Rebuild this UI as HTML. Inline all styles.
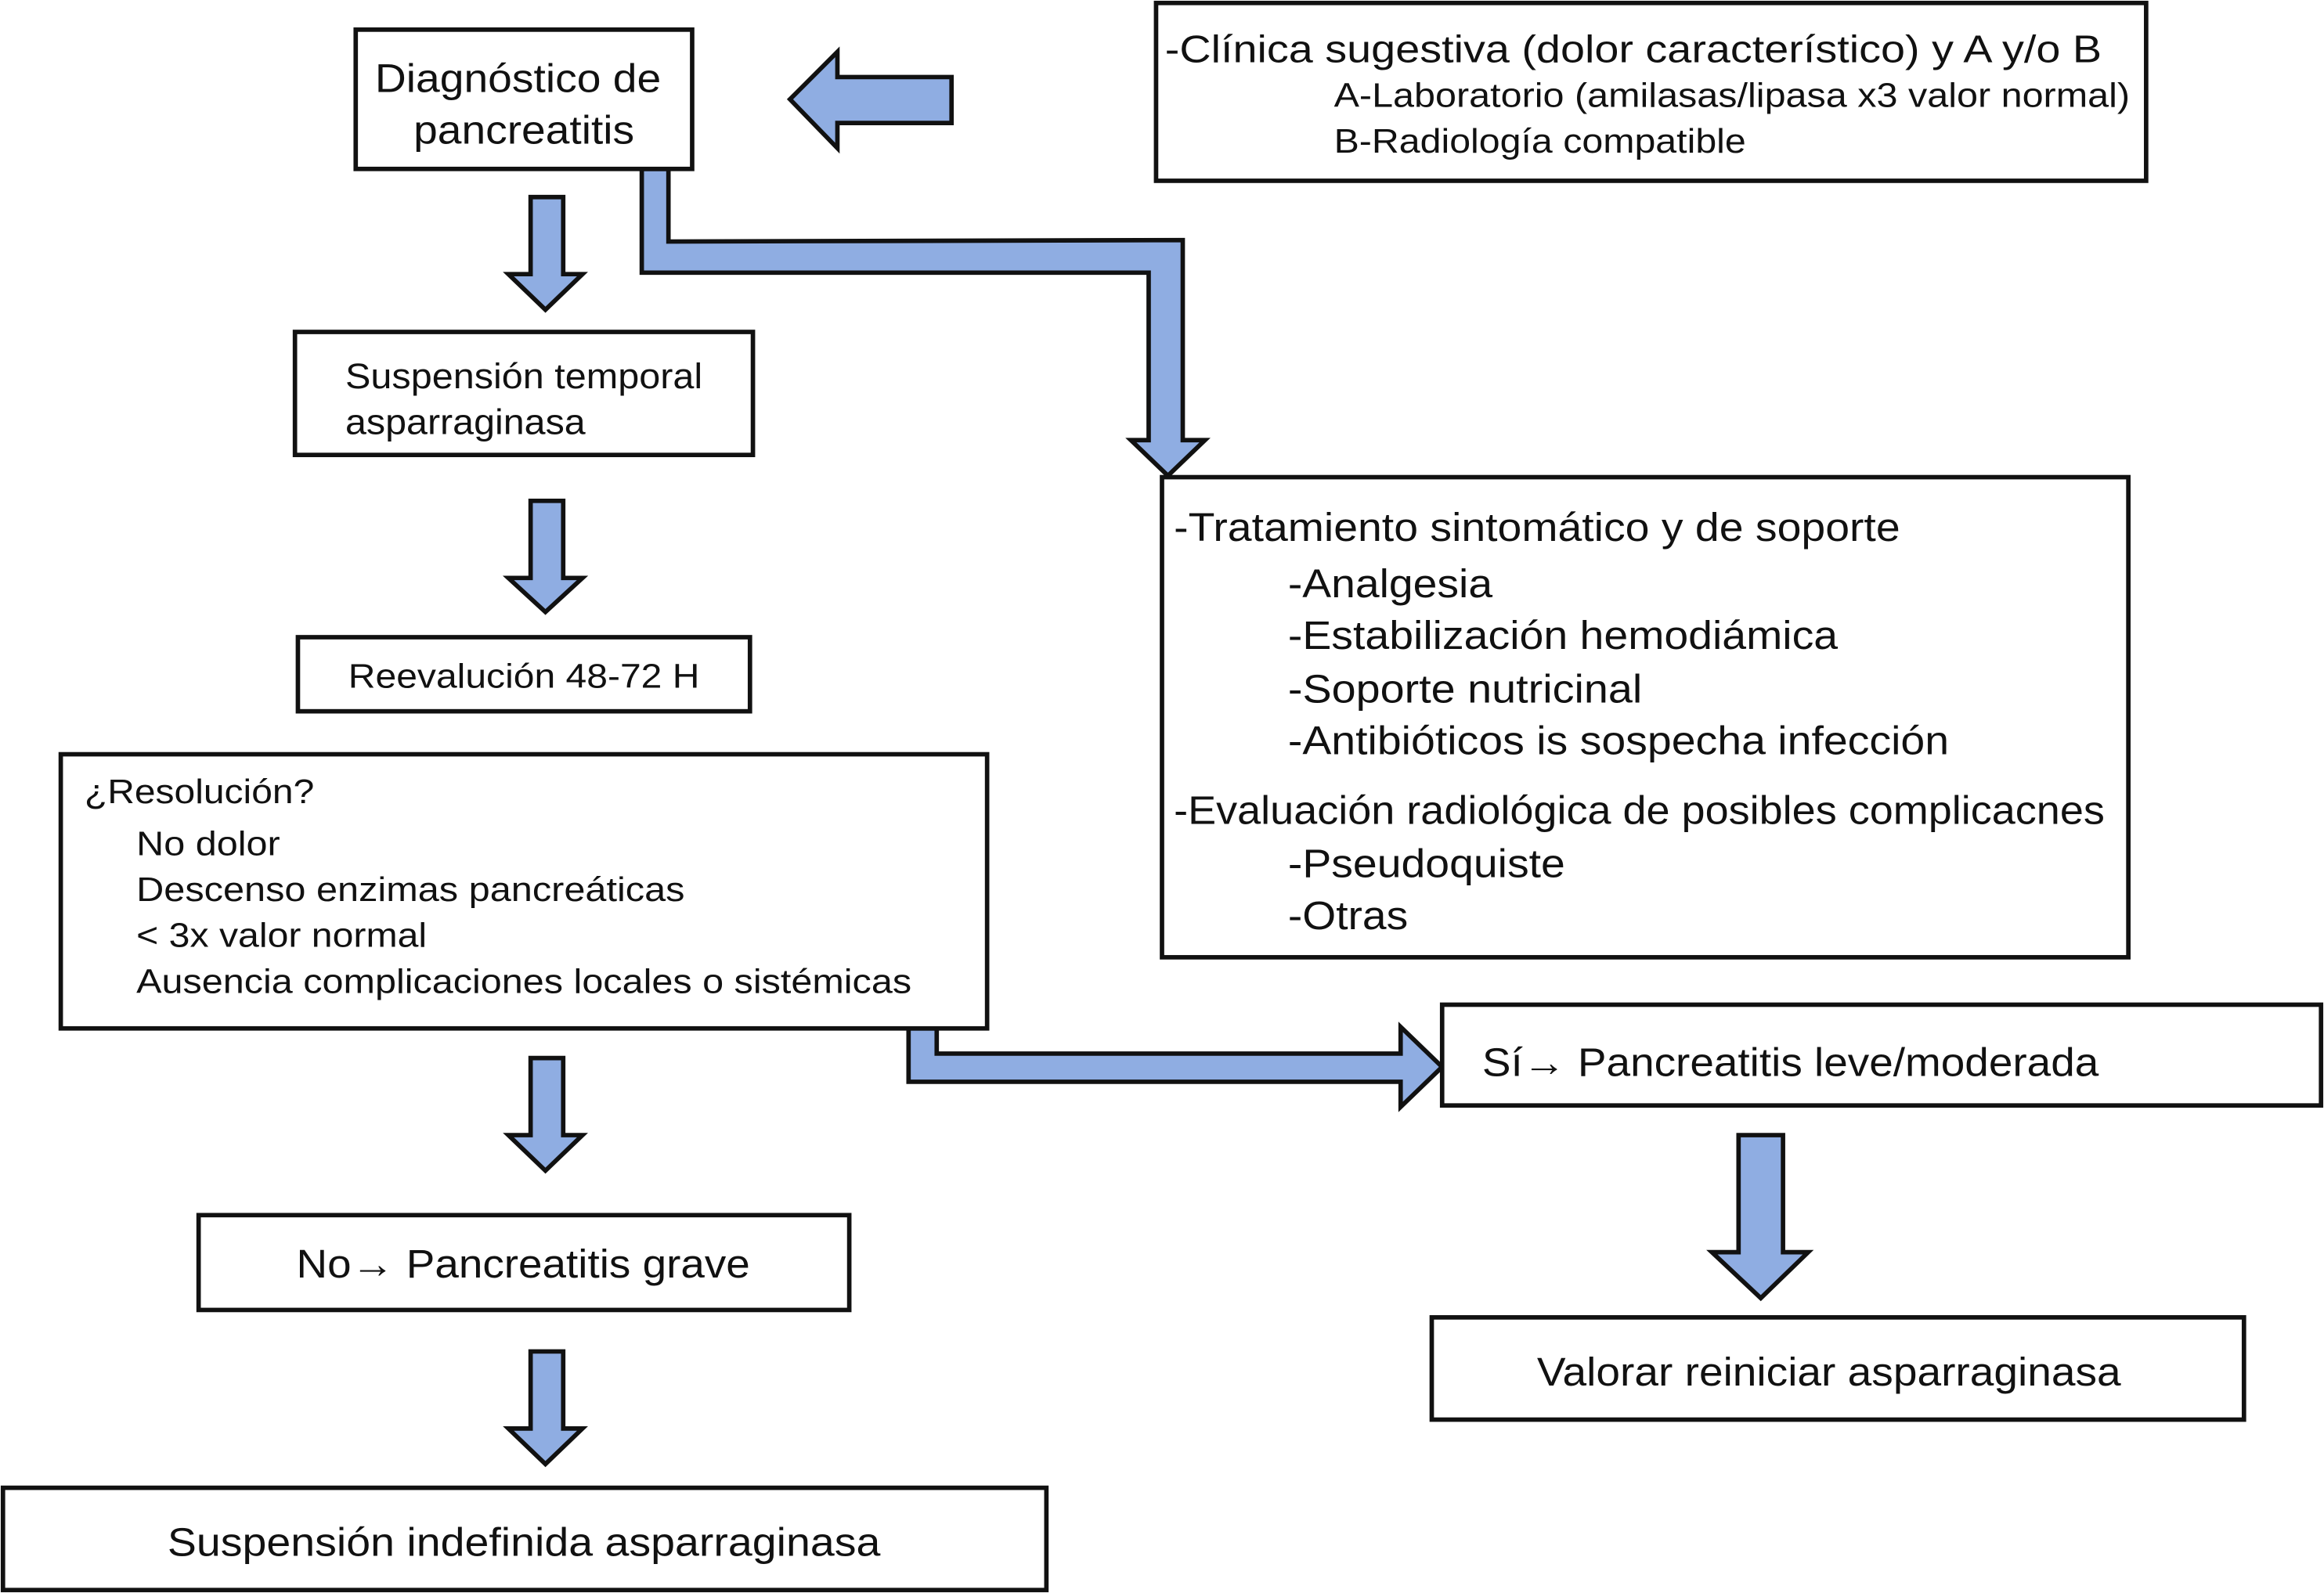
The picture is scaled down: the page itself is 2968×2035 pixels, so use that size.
<!DOCTYPE html>
<html><head><meta charset="utf-8"><style>
html,body{margin:0;padding:0;background:#fff;}
svg{display:block;}
text{font-family:"Liberation Sans",sans-serif;fill:#111;}
</style></head><body>
<svg width="2968" height="2035" viewBox="0 0 1568 1075" preserveAspectRatio="none" xmlns="http://www.w3.org/2000/svg">
<g fill="#8fade2" stroke="#111" stroke-width="3" stroke-linejoin="miter">
<polygon points="642,52 565,52 565,35 533,67 565,100 565,83 642,83"/>
<polygon points="358,133 380,133 380,185 393,185 368,209 343,185 358,185"/>
<polygon points="433,114 451,114 451,163 798,162 798,297 813,297 788,321 763,297 775,297 775,184 433,184"/>
<polygon points="358,338 380,338 380,390 393,390 368,413 343,390 358,390"/>
<polygon points="613,694 632,694 632,711 945,711 945,693 973,720 945,747 945,730 613,730"/>
<polygon points="358,714 380,714 380,766 393,766 368,790 343,766 358,766"/>
<polygon points="358,912 380,912 380,964 393,964 368,988 343,964 358,964"/>
<polygon points="1173,766 1203,766 1203,845 1220,845 1188,876 1155,845 1173,845"/>
</g>
<g fill="#fff" stroke="#111" stroke-width="3">
<rect x="240" y="20" width="227" height="94"/>
<rect x="780" y="2" width="668" height="120"/>
<rect x="199" y="224" width="309" height="83"/>
<rect x="201" y="430" width="305" height="50"/>
<rect x="41" y="509" width="625" height="185"/>
<rect x="784" y="322" width="652" height="324"/>
<rect x="973" y="678" width="593" height="68"/>
<rect x="134" y="820" width="439" height="64"/>
<rect x="2" y="1004" width="704" height="69"/>
<rect x="966" y="889" width="548" height="69"/>
</g>
<g font-size="27">
<text x="253" y="62" textLength="193" lengthAdjust="spacingAndGlyphs">Diagnóstico de</text>
<text x="279" y="97" textLength="149" lengthAdjust="spacingAndGlyphs">pancreatitis</text>
<text x="786" y="42" font-size="26" textLength="632" lengthAdjust="spacingAndGlyphs">-Clínica sugestiva (dolor característico) y A y/o B</text>
<text x="900" y="72" font-size="23" textLength="537" lengthAdjust="spacingAndGlyphs">A-Laboratorio (amilasas/lipasa x3 valor normal)</text>
<text x="900" y="103" font-size="23" textLength="278" lengthAdjust="spacingAndGlyphs">B-Radiología compatible</text>
<text x="233" y="262" font-size="24" textLength="241" lengthAdjust="spacingAndGlyphs">Suspensión temporal</text>
<text x="233" y="293" font-size="24" textLength="162" lengthAdjust="spacingAndGlyphs">asparraginasa</text>
<text x="235" y="464" font-size="23" textLength="237" lengthAdjust="spacingAndGlyphs">Reevalución 48-72 H</text>
<text x="57" y="542" font-size="23" textLength="155" lengthAdjust="spacingAndGlyphs">¿Resolución?</text>
<text x="92" y="577" font-size="23" textLength="97" lengthAdjust="spacingAndGlyphs">No dolor</text>
<text x="92" y="608" font-size="23" textLength="370" lengthAdjust="spacingAndGlyphs">Descenso enzimas pancreáticas</text>
<text x="92" y="639" font-size="23" textLength="196" lengthAdjust="spacingAndGlyphs">&lt; 3x valor normal</text>
<text x="92" y="670" font-size="23" textLength="523" lengthAdjust="spacingAndGlyphs">Ausencia complicaciones locales o sistémicas</text>
<text x="792" y="365" textLength="490" lengthAdjust="spacingAndGlyphs">-Tratamiento sintomático y de soporte</text>
<text x="869" y="403" textLength="138" lengthAdjust="spacingAndGlyphs">-Analgesia</text>
<text x="869" y="438" textLength="371" lengthAdjust="spacingAndGlyphs">-Estabilización hemodiámica</text>
<text x="869" y="474" textLength="239" lengthAdjust="spacingAndGlyphs">-Soporte nutricinal</text>
<text x="869" y="509" textLength="446" lengthAdjust="spacingAndGlyphs">-Antibióticos is sospecha infección</text>
<text x="792" y="556" textLength="628" lengthAdjust="spacingAndGlyphs">-Evaluación radiológica de posibles complicacnes</text>
<text x="869" y="592" textLength="187" lengthAdjust="spacingAndGlyphs">-Pseudoquiste</text>
<text x="869" y="627" textLength="81" lengthAdjust="spacingAndGlyphs">-Otras</text>
<text x="1000" y="726" textLength="416" lengthAdjust="spacingAndGlyphs">Sí→ Pancreatitis leve/moderada</text>
<text x="200" y="862" textLength="306" lengthAdjust="spacingAndGlyphs">No→ Pancreatitis grave</text>
<text x="113" y="1050" textLength="481" lengthAdjust="spacingAndGlyphs">Suspensión indefinida asparraginasa</text>
<text x="1037" y="935" textLength="394" lengthAdjust="spacingAndGlyphs">Valorar reiniciar asparraginasa</text>
</g>
</svg>
</body></html>
